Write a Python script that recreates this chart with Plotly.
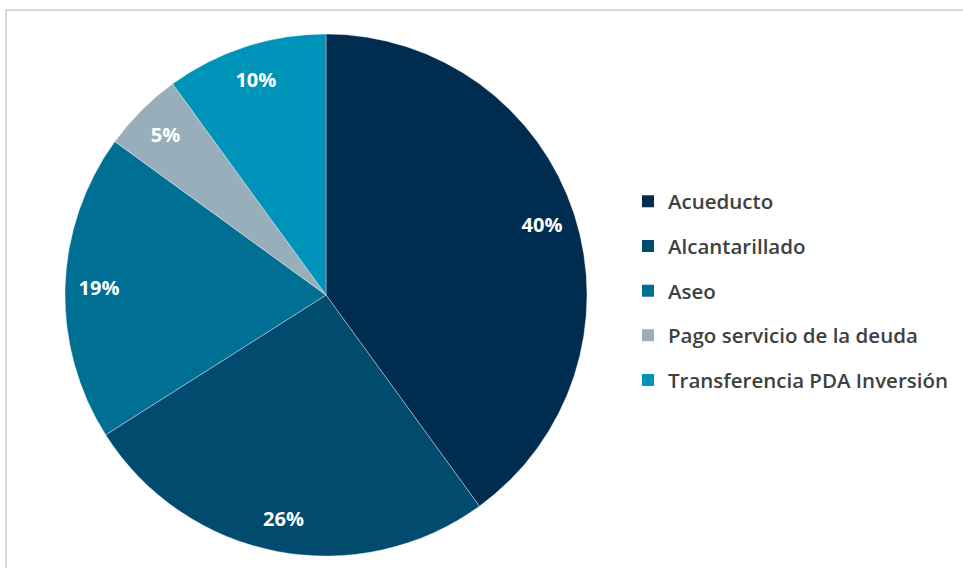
import plotly.graph_objects as go

categories = ["Acueducto", "Alcantarillado", "Aseo", "Pago servicio de la deuda", "Transferencia PDA Inversión"]
values = [40, 26, 19, 5, 10]
colors = ["#002C4F", "#004B6E", "#006F94", "#98AFBB", "#0093BA"]

W, H = 963, 568
cx, cy, R = 326, 295, 261
dom_x = [(cx - R) / W, (cx + R) / W]
dom_y = [1 - (cy + R) / H, 1 - (cy - R) / H]

fig = go.Figure()
fig.add_trace(go.Pie(
    labels=categories, values=values, sort=False, direction="clockwise", rotation=0,
    marker=dict(colors=colors, line=dict(color="rgba(255,255,255,0.35)", width=1)),
    textinfo="none", showlegend=False, domain=dict(x=dom_x, y=dom_y),
))
# label ring (transparent) to place percentages near the outer edge
fig.add_trace(go.Pie(
    labels=categories, values=values, sort=False, direction="clockwise", rotation=0,
    hole=0.74, marker=dict(colors=["rgba(0,0,0,0)"] * len(values), line=dict(width=0)),
    texttemplate="%{percent:.0%}", textposition="inside", insidetextorientation="horizontal",
    insidetextfont=dict(color="white", size=20, family="Open Sans", weight=700),
    showlegend=False, hoverinfo="skip", domain=dict(x=dom_x, y=dom_y),
))
for i, (name, col) in enumerate(zip(categories, colors)):
    fig.add_trace(go.Scatter(
        x=[None], y=[None], mode="markers", name=name, legendgroup=f"g{i}",
        marker=dict(symbol="square", size=12, color=col),
    ))

fig.update_layout(
    width=W, height=H, margin=dict(l=0, r=0, t=0, b=0),
    paper_bgcolor="white", plot_bgcolor="white",
    xaxis=dict(visible=False), yaxis=dict(visible=False),
    legend=dict(x=628 / W, xanchor="left", y=1 - 291 / H, yanchor="middle",
                font=dict(family="Open Sans", size=20.5, color="#404040", weight=600),
                tracegroupgap=15, bgcolor="rgba(0,0,0,0)"),
    shapes=[dict(type="rect", xref="paper", yref="paper",
                 x0=6 / W, x1=1.05, y0=-0.05, y1=1 - 10 / H,
                 line=dict(color="#D9D9D9", width=2), layer="below")],
)
fig.write_html("out.html", config={"displayModeBar": False},
               post_script="document.body.style.margin='0';document.body.style.overflow='hidden';")
